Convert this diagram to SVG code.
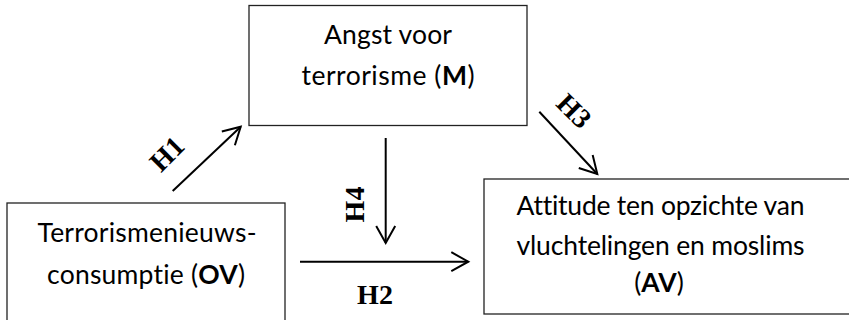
<svg xmlns="http://www.w3.org/2000/svg" width="849" height="320" viewBox="0 0 849 320">
<style>
.box{fill:#fff;stroke:#222;stroke-width:1.3}
.t{font-family:Lato,"Open Sans",sans-serif;font-size:26.5px;fill:#000;text-anchor:middle;font-variant-ligatures:none;font-feature-settings:"liga" 0}
.b{font-weight:bold}
.lbl{font-family:"Liberation Serif","Times New Roman",serif;font-size:28px;font-weight:bold;fill:#000;text-anchor:middle}
.arr{stroke:#000;stroke-width:2;fill:none;marker-end:url(#ah)}
</style>
<defs>
<marker id="ah" markerUnits="userSpaceOnUse" viewBox="-22 -13 26 26" markerWidth="26" markerHeight="26" refX="0" refY="0" orient="auto">
<path d="M-17,-9.5 L0,0 L-17,9.5" fill="none" stroke="#000" stroke-width="2"/>
</marker>
</defs>
<rect width="849" height="320" fill="#fff"/>
<g id="node-M">
<rect class="box" x="249" y="5.5" width="278" height="120"/>
<text class="t" x="388" y="43.5" textLength="128">Angst voor</text>
<text class="t" x="388" y="85" textLength="173">terrorisme (<tspan class="b">M</tspan>)</text>
</g>
<g id="node-OV">
<rect class="box" x="7" y="203" width="278" height="120"/>
<text class="t" x="147" y="242" textLength="219">Terrorismenieuws-</text>
<text class="t" x="146" y="283.5" textLength="198">consumptie (<tspan class="b">OV</tspan>)</text>
</g>
<g id="node-AV">
<rect class="box" x="484" y="179" width="370" height="135"/>
<text class="t" x="660.5" y="215" textLength="288">Attitude ten opzichte van</text>
<text class="t" x="660.5" y="255" textLength="288">vluchtelingen en moslims</text>
<text class="t" x="659" y="292">(<tspan class="b">AV</tspan>)</text>
</g>
<g id="connectors">
<line class="arr" x1="172.7" y1="191" x2="240.7" y2="126.7"/>
<line class="arr" x1="385.7" y1="138" x2="385.7" y2="243"/>
<line class="arr" x1="539.3" y1="111.7" x2="597.3" y2="174"/>
<line class="arr" x1="300" y1="261.7" x2="468.3" y2="261.7"/>
<text class="lbl" transform="translate(167,154) rotate(-45)" y="9.3">H1</text>
<text class="lbl" transform="translate(355,204.5) rotate(-90)" y="9.3">H4</text>
<text class="lbl" transform="translate(574,111) rotate(45)" y="9.3">H3</text>
<text class="lbl" x="375" y="303.5">H2</text>
</g>
</svg>
